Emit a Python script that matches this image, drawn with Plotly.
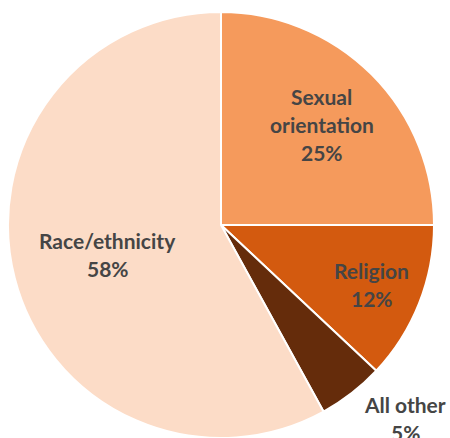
import math
import plotly.graph_objects as go

# Share of incidents by bias motivation
categories = ["Sexual orientation", "Religion", "All other", "Race/ethnicity"]
shares = [25, 12, 5, 58]
label_lines = [["Sexual", "orientation"], ["Religion"], ["All other"], ["Race/ethnicity"]]
colors = ["#F59A5C", "#D35A0F", "#652C0B", "#FCDCC7"]
# radial position of each label, as a fraction of the pie radius
label_radius = [0.67, 0.76, 1.25, 0.55]
# extra pixel nudge of each label block (right, down)
label_nudge = [(0, 0), (0, 0), (21, -17), (0, 0)]

W, H = 450, 438
cx, cy, r = 221, 225, 213  # pie centre and radius in pixels

fig = go.Figure(go.Pie(
    labels=categories,
    values=shares,
    sort=False,
    direction="clockwise",
    rotation=0,
    marker=dict(colors=colors, line=dict(color="white", width=2)),
    textinfo="none",
    hoverinfo="label+percent",
    showlegend=False,
    domain=dict(x=[(cx - r) / W, (cx + r) / W], y=[(H - cy - r) / H, (H - cy + r) / H]),
))

total = sum(shares)
start = 0.0
line_h = 28
annotations = []
for name_lines, v, f, (nx, ny) in zip(label_lines, shares, label_radius, label_nudge):
    mid = (start + v / 2) / total * 2 * math.pi
    start += v
    px = cx + f * r * math.sin(mid) + nx
    py = cy - f * r * math.cos(mid) + ny
    lines = name_lines + [f"{v}%"]
    n = len(lines)
    for i, t in enumerate(lines):
        annotations.append(dict(
            x=px / W, y=1 - py / H, xref="paper", yref="paper",
            text=f"<b>{t}</b>", showarrow=False,
            xanchor="center", yanchor="middle",
            yshift=-(i - (n - 1) / 2) * line_h,
            font=dict(family="Lato, Open Sans, sans-serif", size=21, color="#454545"),
        ))

fig.update_layout(
    width=W, height=H,
    margin=dict(l=0, r=0, t=0, b=0),
    paper_bgcolor="white",
    annotations=annotations,
)

fig.write_html("out.html")
